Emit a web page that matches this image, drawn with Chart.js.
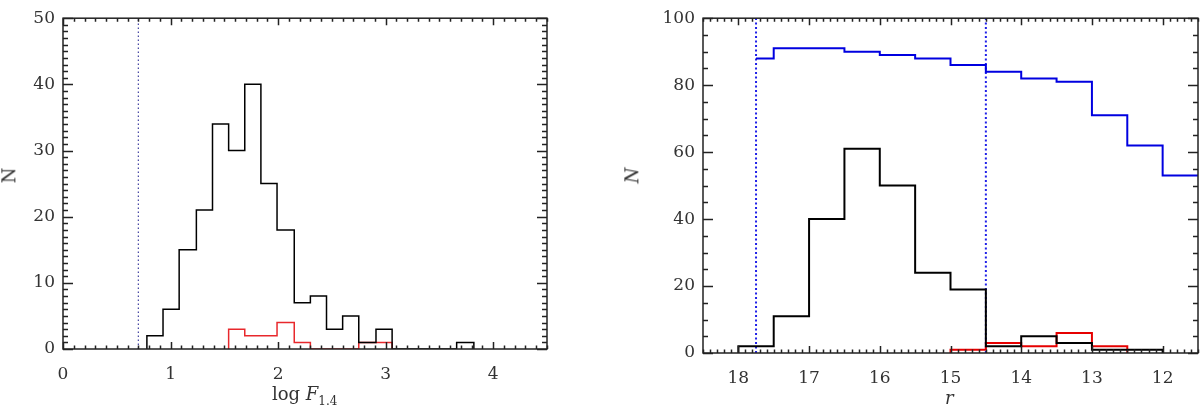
<!DOCTYPE html>
<html>
<head>
<meta charset="utf-8">
<script src="https://cdn.jsdelivr.net/npm/chart.js@4.4.1/dist/chart.umd.min.js"></script>
<style>
  body { margin: 0; background: #fff; width: 1200px; height: 409px; position: relative; overflow: hidden; }
  canvas { position: absolute; top: 0; }
  #c1 { left: 0; }
  #c2 { left: 600px; }
  .lbl { position: absolute; font-family: "DejaVu Serif", "Liberation Serif", serif; font-size: 18px; color: #333; white-space: nowrap; }
  .lbl sub { font-size: 12px; }
</style>
</head>
<body>
<canvas id="c1" width="560" height="409"></canvas>
<canvas id="c2" width="600" height="409"></canvas>
<div class="lbl" style="left:272px; top:383px;">log&nbsp;<i>F</i><sub>1.4</sub></div>
<div class="lbl" style="left:945px; top:387px;"><i>r</i></div>
<div class="lbl" style="left:1px; top:165px; transform: rotate(-90deg);">N</div>
<div class="lbl" style="left:624px; top:165px; transform: rotate(-90deg);"><i>N</i></div>
<script>
// ===== Left panel: log F1.4 histograms =====
const fluxEdges = [0.78, 0.93, 1.08, 1.24, 1.39, 1.54, 1.69, 1.84, 1.99, 2.15, 2.30,
                   2.45, 2.60, 2.75, 2.91, 3.06, 3.21, 3.36, 3.51, 3.66, 3.82];
const fluxAll = [2, 6, 15, 21, 34, 30, 40, 25, 18, 7, 8, 3, 5, 1, 3, 0, 0, 0, 0, 1];
const fluxRedEdges = [1.54, 1.69, 1.84, 1.99, 2.15, 2.30, 2.45, 2.60, 2.75, 2.91, 3.06];
const fluxRed = [3, 2, 2, 4, 1, 0, 0, 0, 1, 1];
const fluxLimit = 0.70;
const fluxTicks = [0, 1, 2, 3, 4];
const nTicksLeft = [0, 10, 20, 30, 40, 50];

// ===== Right panel: r magnitude histograms =====
const magEdges = [18, 17.5, 17, 16.5, 16, 15.5, 15, 14.5, 14, 13.5, 13, 12.5, 12];
const magAll = [2, 11, 40, 61, 50, 24, 19, 2, 5, 3, 1, 1];
const magRedEdges = [15, 14.5, 14, 13.5, 13, 12.5];
const magRed = [1, 3, 2, 6, 2];
const magBlueEdges = [17.75, 17.5, 16.5, 16, 15.5, 15, 14.5, 14, 13.5, 13, 12.5, 12, 11.5];
const magBlue = [88, 91, 90, 89, 88, 86, 84, 82, 81, 71, 62, 53];
const magLimits = [17.75, 14.5];
const magTicks = [18, 17, 16, 15, 14, 13, 12];
const nTicksRight = [0, 20, 40, 60, 80, 100];

const FONT = "'DejaVu Serif', 'Liberation Serif', serif";

// histogram outline as stepped points (drops to zero at both ends if closed)
function histPoints(edges, counts, closed) {
    const pts = [];
    if (closed) pts.push({ x: edges[0], y: 0 });
    counts.forEach((c, i) => pts.push({ x: edges[i], y: c }));
    pts.push({ x: edges[edges.length - 1], y: closed ? 0 : counts[counts.length - 1] });
    return pts;
}

function stepSet(data, color, width) {
    return { data: data, borderColor: color, borderWidth: width, stepped: "before",
             pointRadius: 0, fill: false, tension: 0 };
}

function vline(x, top, color, width, dash) {
    return { data: [{ x: x, y: 0 }, { x: x, y: top }], borderColor: color, borderWidth: width,
             borderDash: dash, pointRadius: 0, fill: false };
}

// IDL-style frame with inward ticks on all four sides
const framePlugin = {
    id: "frame",
    afterDraw(chart, args, o) {
        const { ctx, chartArea: a, scales } = chart;
        const xs = scales.x, ys = scales.y;
        ctx.save();
        ctx.strokeStyle = "#222";
        ctx.lineWidth = o.lw;
        ctx.beginPath();
        const tickX = (v, len) => {
            const p = Math.round(xs.getPixelForValue(v)) + 0.5;
            ctx.moveTo(p, a.bottom); ctx.lineTo(p, a.bottom - len);
            ctx.moveTo(p, a.top); ctx.lineTo(p, a.top + len);
        };
        const tickY = (v, len) => {
            const p = Math.round(ys.getPixelForValue(v)) + 0.5;
            ctx.moveTo(a.left, p); ctx.lineTo(a.left + len, p);
            ctx.moveTo(a.right, p); ctx.lineTo(a.right - len, p);
        };
        for (let i = 0; ; i++) {
            const v = o.xMin + i * o.xMinor;
            if (v > o.xMax + 1e-9) break;
            const major = Math.abs(v / o.xMajor - Math.round(v / o.xMajor)) < 1e-6;
            tickX(v, major ? o.xLen : o.xLen / 2);
        }
        for (let i = 0; ; i++) {
            const v = o.yMin + i * o.yMinor;
            if (v > o.yMax + 1e-9) break;
            const major = Math.abs(v / o.yMajor - Math.round(v / o.yMajor)) < 1e-6;
            tickY(v, major ? o.yLen : o.yLen / 2);
        }
        ctx.stroke();
        ctx.strokeRect(a.left, a.top, a.right - a.left, a.bottom - a.top);
        ctx.restore();
    }
};

function onlyTicks(list) {
    return scale => { scale.ticks = list.map(v => ({ value: v })); };
}

function makeChart(id, datasets, s) {
    return new Chart(document.getElementById(id), {
        type: "line",
        data: { datasets: datasets },
        plugins: [framePlugin],
        options: {
            responsive: false,
            animation: false,
            layout: { padding: { top: s.top, right: s.right, left: 0, bottom: 0 } },
            plugins: { legend: { display: false }, tooltip: { enabled: false }, frame: s.frame },
            scales: {
                x: {
                    type: "linear", min: s.xmin, max: s.xmax, reverse: s.reverse,
                    grid: { display: false, drawTicks: false }, border: { display: false },
                    afterBuildTicks: onlyTicks(s.xticks),
                    afterFit: sc => { sc.height = s.xh; },
                    ticks: { padding: 15, maxRotation: 0, autoSkip: false, color: "#333",
                             font: { family: FONT, size: 17 } }
                },
                y: {
                    type: "linear", min: s.ymin, max: s.ymax,
                    grid: { display: false, drawTicks: false }, border: { display: false },
                    afterBuildTicks: onlyTicks(s.yticks),
                    afterFit: sc => { sc.width = s.yw; },
                    ticks: { padding: 8, color: "#333", font: { family: FONT, size: 17 } }
                }
            }
        }
    });
}

makeChart("c1", [
    stepSet(histPoints(fluxEdges, fluxAll, true), "#000", 1.5),
    stepSet(histPoints(fluxRedEdges, fluxRed, true), "#e8282c", 1.5),
    vline(fluxLimit, 50, "#1a1a8c", 1, [1.5, 2.5])
], {
    top: 7, right: 13, xh: 60, yw: 63,
    xmin: 0, xmax: 4.5, ymin: 0, ymax: 50, reverse: false,
    xticks: fluxTicks, yticks: nTicksLeft,
    frame: { lw: 1.5, xMin: 0, xMax: 4.5, xMinor: 0.1, xMajor: 1, xLen: 7,
             yMin: 0, yMax: 50, yMinor: 1, yMajor: 10, yLen: 10 }
});

makeChart("c2", [
    stepSet(histPoints(magEdges, magAll, true), "#000", 2),
    stepSet(histPoints(magRedEdges, magRed, true), "#e60000", 2),
    stepSet(histPoints(magBlueEdges, magBlue, false), "#0000e0", 2),
    vline(magLimits[0], 100, "#2020e8", 2, [2, 2.5]),
    vline(magLimits[1], 100, "#2020e8", 2, [2, 2.5])
], {
    top: 2, right: 2, xh: 56, yw: 103,
    xmin: 11.5, xmax: 18.5, ymin: 0, ymax: 100, reverse: true,
    xticks: magTicks, yticks: nTicksRight,
    frame: { lw: 1.5, xMin: 11.5, xMax: 18.5, xMinor: 0.1, xMajor: 1, xLen: 7,
             yMin: 0, yMax: 100, yMinor: 5, yMajor: 20, yLen: 10 }
});
</script>
</body>
</html>
